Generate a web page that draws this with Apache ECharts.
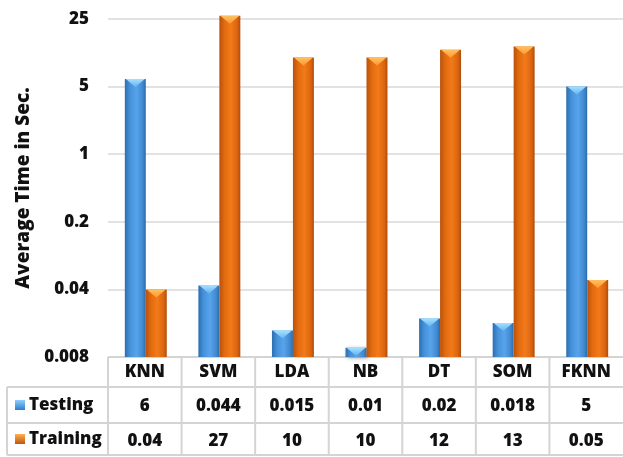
<!DOCTYPE html>
<html>
<head>
<meta charset="utf-8">
<script src="https://cdn.jsdelivr.net/npm/echarts@6/dist/echarts.min.js"></script>
<style>
html,body{margin:0;padding:0;background:#fff;}
#c{width:623px;height:457px;}
</style>
</head>
<body>
<div id="c"></div>
<script>
const categories = ['KNN', 'SVM', 'LDA', 'NB', 'DT', 'SOM', 'FKNN'];
const testing = [6, 0.044, 0.015, 0.01, 0.02, 0.018, 5];
const training = [0.04, 27, 10, 10, 12, 13, 0.05];
const testingLabels = ['6', '0.044', '0.015', '0.01', '0.02', '0.018', '5'];
const trainingLabels = ['0.04', '27', '10', '10', '12', '13', '0.05'];
const seriesNames = ['Testing', 'Training'];
const yMin = 0.008, yMax = 25;

const FONT = 'Open Sans';
const FW = 800;
const FS = 17;
const G = {left: 108, top: 19, right: -3, bottom: 100};

const blueGrad = {type:'linear',x:0,y:0,x2:1,y2:0,colorStops:[
  {offset:0,color:'#2c6eb0'},{offset:0.25,color:'#4692da'},{offset:0.55,color:'#58a4ec'},{offset:0.85,color:'#4189cf'},{offset:1,color:'#2c6aa8'}]};
const orangeGrad = {type:'linear',x:0,y:0,x2:1,y2:0,colorStops:[
  {offset:0,color:'#b9510b'},{offset:0.25,color:'#e26b10'},{offset:0.55,color:'#f27a19'},{offset:0.85,color:'#db6510'},{offset:1,color:'#b04c09'}]};
const blueCap = {type:'linear',x:0,y:0,x2:0,y2:1,colorStops:[{offset:0,color:'#a8e0ff'},{offset:1,color:'#62b4f0'}]};
const orangeCap = {type:'linear',x:0,y:0,x2:0,y2:1,colorStops:[{offset:0,color:'#ffc060'},{offset:1,color:'#ff9a30'}]};

function makeRender(side, grad, cap) {
  return function (params, api) {
    const i = api.value(0), v = api.value(1);
    const top = api.coord([i, v]);
    const base = api.coord([i, yMin]);
    const band = api.coord([1, 1])[0] - api.coord([0, 1])[0];
    const w = band * 0.285;
    const c = top[0] + 1;
    const x0 = side === 0 ? c - w : c;
    const h = base[1] - top[1];
    const capH = Math.min(8, h);
    return {
      type: 'group',
      children: [
        {type:'rect', shape:{x:x0, y:top[1], width:w, height:h},
         style:{fill:grad, shadowBlur:4, shadowColor:'rgba(0,0,0,0.35)', shadowOffsetX:2, shadowOffsetY:1}},
        {type:'polygon', shape:{points:[[x0+1, top[1]], [x0+w-1, top[1]], [x0+w/2, top[1]+capH]]},
         style:{fill:cap}}
      ]
    };
  };
}

const chart = echarts.init(document.getElementById('c'), null, {renderer:'canvas'});
const hiddenAxis = {axisLine:{show:false}, axisTick:{show:false}, splitLine:{show:false}};
const lbl = {margin:7, fontFamily:FONT, fontWeight:FW, fontSize:FS, color:'#111'};
chart.setOption({
  animation: false,
  backgroundColor: '#fff',
  grid: G,
  xAxis: [
    Object.assign({type:'category', data:categories, position:'bottom', axisLabel:lbl}, hiddenAxis),
    Object.assign({type:'category', data:testingLabels, position:'bottom', offset:34, axisLabel:lbl}, hiddenAxis),
    Object.assign({type:'category', data:trainingLabels, position:'bottom', offset:69, axisLabel:lbl}, hiddenAxis)
  ],
  yAxis: {
    type: 'log', logBase: 5, min: yMin, max: yMax,
    name: 'Average Time in Sec.', nameLocation: 'middle', nameGap: 67,
    nameTextStyle: {fontFamily: FONT, fontWeight: FW, fontSize: 19, color: '#111'},
    axisLine: {show: false}, axisTick: {show: false},
    axisLabel: {margin: 19, fontFamily: FONT, fontWeight: FW, fontSize: FS, color: '#111',
      formatter: v => String(+Number(v).toPrecision(6))},
    splitLine: {lineStyle: {color: '#d9d9d9', width: 1.5}}
  },
  series: [
    {name: seriesNames[0], type: 'custom', xAxisIndex: 0, renderItem: makeRender(0, blueGrad, blueCap),
     data: testing.map((v, i) => [i, v]), z: 3},
    {name: seriesNames[1], type: 'custom', xAxisIndex: 0, renderItem: makeRender(1, orangeGrad, orangeCap),
     data: training.map((v, i) => [i, v]), z: 3}
  ]
});

// Data table lines and row headers
(function () {
  const c0 = chart.convertToPixel({xAxisIndex: 0}, 0);
  const c1 = chart.convertToPixel({xAxisIndex: 0}, 1);
  const band = c1 - c0;
  const plotBottom = chart.convertToPixel({yAxisIndex: 0}, yMin);
  const rowH = [30, 36, 32];
  const yTop = plotBottom;
  const y1 = yTop + rowH[0], y2 = y1 + rowH[1], y3 = y2 + rowH[2];
  const xL = 7, xR = 640;
  const ls = {stroke: '#d4d4d4', lineWidth: 2};
  const els = [];
  const xs0 = c0 - band / 2;
  els.push({type:'line', shape:{x1:xs0, y1:yTop, x2:xR, y2:yTop}, style:ls});
  [y1, y2, y3].forEach(y => els.push({type:'line', shape:{x1:xL, y1:y, x2:xR, y2:y}, style:ls}));
  els.push({type:'line', shape:{x1:xL, y1:y1, x2:xL, y2:y3}, style:ls});
  for (let k = 0; k < categories.length; k++) {
    const x = xs0 + k * band;
    els.push({type:'line', shape:{x1:x, y1:yTop, x2:x, y2:y3}, style:ls});
  }
  const icons = [
    {grad: {type:'linear',x:0,y:0,x2:0,y2:1,colorStops:[{offset:0,color:'#8fd0ff'},{offset:1,color:'#2f7cc8'}]}, y: (y1 + y2) / 2},
    {grad: {type:'linear',x:0,y:0,x2:0,y2:1,colorStops:[{offset:0,color:'#ffb050'},{offset:1,color:'#c0560c'}]}, y: (y2 + y3) / 2}
  ];
  icons.forEach((ic, k) => {
    els.push({type:'rect', shape:{x:15, y:ic.y - 5, width:10, height:10}, style:{fill: ic.grad}});
    els.push({type:'text', x: 29, y: ic.y, style:{text: seriesNames[k], fontFamily: FONT, fontWeight:FW, fontSize:17,
      fill:'#111', verticalAlign:'middle'}});
  });
  chart.setOption({graphic: els});
})();
</script>
</body>
</html>
